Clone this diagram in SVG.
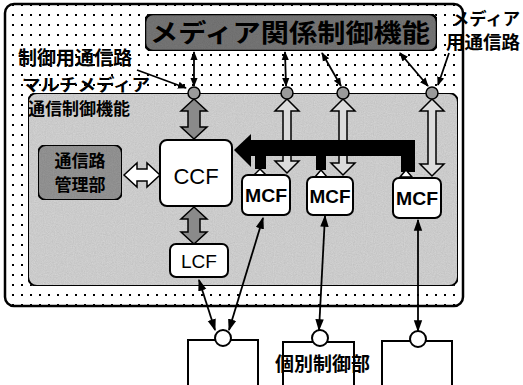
<svg xmlns="http://www.w3.org/2000/svg" width="523" height="385" viewBox="0 0 523 385">
<defs>
<pattern id="dots" width="9" height="10" patternUnits="userSpaceOnUse">
<rect width="9" height="10" fill="#fff"/>
<rect x="3" y="4" width="2" height="2" fill="#000"/>
</pattern>
<filter id="grain" x="0" y="0" width="100%" height="100%">
<feTurbulence type="fractalNoise" baseFrequency="0.9" numOctaves="2" seed="3" result="n"/>
<feColorMatrix in="n" type="saturate" values="0" result="g"/>
<feComponentTransfer in="g" result="g2"><feFuncA type="linear" slope="0" intercept="0.3"/></feComponentTransfer>
<feComposite in="g2" in2="SourceGraphic" operator="in" result="m"/>
<feBlend in="SourceGraphic" in2="m" mode="multiply"/>
</filter>
<marker id="ah" viewBox="0 0 10 10" refX="9" refY="5" markerWidth="9" markerHeight="9" orient="auto-start-reverse" markerUnits="userSpaceOnUse">
<path d="M0,1 L10,5 L0,9 z" fill="#000"/>
</marker>
<marker id="ahs" viewBox="0 0 10 10" refX="9" refY="5" markerWidth="12" markerHeight="12" orient="auto-start-reverse" markerUnits="userSpaceOnUse">
<path d="M0,1.5 L10,5 L0,8.5 z" fill="#000"/>
</marker>
</defs>
<style>
.jp{font-family:"Noto Sans CJK JP","Noto Sans",sans-serif;font-weight:bold;fill:#000}
.en{font-family:"Liberation Sans",Arial,sans-serif;fill:#000;text-anchor:middle}
.box{fill:#fff;stroke:#000;stroke-width:2}
.bus{fill:#9a9a9a;stroke:#000;stroke-width:1.5}
.thin{stroke:#000;stroke-width:1.8;fill:none}
.gray{fill:#8a8a8a;stroke:#000;stroke-width:1.5}
.hollow{fill:#fff;stroke:#000;stroke-width:1.5}
.hollowg{fill:#dcdcdc;stroke:#000;stroke-width:1.5}
.unit{fill:#fff;stroke:#000;stroke-width:2}
</style>

<g id="outer">
<rect x="5" y="4" width="458" height="302" rx="9" fill="url(#dots)" stroke="#000" stroke-width="2.5"/>
</g>
<g id="inner">
<rect x="28" y="93" width="430" height="193" rx="9" fill="#dadada" stroke="#000" stroke-width="2" filter="url(#grain)"/>
</g>

<g id="media-ctrl">
<rect x="145" y="14" width="292" height="37" rx="8" fill="#7a7a7a" stroke="#000" stroke-width="2.5" filter="url(#grain)"/>
<text class="jp" x="150" y="42" font-size="25" textLength="280" lengthAdjust="spacingAndGlyphs">メディア関係制御機能</text>
</g>

<g id="labels">
<text class="jp" x="18" y="65" font-size="19">制御用通信路</text>
<text class="jp" x="22" y="91" font-size="17" textLength="128" lengthAdjust="spacingAndGlyphs">マルチメディア</text>
<text class="jp" x="28" y="115" font-size="17">通信制御機能</text>
<text class="jp" x="452" y="25" font-size="17" textLength="68" lengthAdjust="spacingAndGlyphs">メディア</text>
<text class="jp" x="446" y="49" font-size="18" textLength="74" lengthAdjust="spacingAndGlyphs">用通信路</text>
</g>

<g id="connectors">
<line class="thin" x1="137" y1="70" x2="186" y2="88" marker-end="url(#ah)"/>
<line class="thin" x1="194" y1="52" x2="194" y2="86" marker-start="url(#ah)" marker-end="url(#ah)"/>
<line class="thin" x1="285" y1="52" x2="286" y2="86" marker-start="url(#ah)" marker-end="url(#ah)"/>
<line class="thin" x1="322" y1="53" x2="341" y2="86" marker-start="url(#ah)" marker-end="url(#ah)"/>
<line class="thin" x1="400" y1="53" x2="428" y2="86" marker-start="url(#ah)" marker-end="url(#ah)"/>
<line class="thin" x1="449" y1="53" x2="438" y2="85" marker-end="url(#ah)"/>

<polygon class="gray" points="194,99 207,111 200,111 200,127 207,127 194,139 181,127 188,127 188,111 181,111"/>
<polygon class="gray" points="194,207 207,219 200,219 200,232 207,232 194,244 181,232 188,232 188,219 181,219"/>
<polygon class="hollow" points="124,175 137,163 137,169 147,169 147,163 160,175 147,187 147,181 137,181 137,187"/>

<polygon class="hollowg" points="287,99 299,111 291,111 291,161 299,161 287,173 275,161 283,161 283,111 275,111"/>
<polygon class="hollowg" points="343,99 355,111 347,111 347,163 355,163 343,175 331,163 339,163 339,111 331,111"/>
<polygon class="hollowg" points="432,99 444,111 436,111 436,164 444,164 432,176 420,164 428,164 428,111 420,111"/>

<polygon fill="#000" points="234,150 251,134 251,140 415,140 415,172 401,172 401,156 251,156 251,167"/>
<rect x="255" y="156" width="11" height="13" fill="#000"/>
<rect x="316" y="156" width="10" height="14" fill="#000"/>
<polygon class="hollow" points="260,169 266,175 254,175"/>
<polygon class="hollow" points="321,170 327,177 315,177"/>
<polygon class="hollow" points="406,170 412,177 400,177"/>

<line class="thin" x1="199" y1="280" x2="215" y2="330" marker-start="url(#ahs)" marker-end="url(#ahs)"/>
<line class="thin" x1="263" y1="218" x2="229" y2="330" marker-start="url(#ahs)" marker-end="url(#ahs)"/>
<line class="thin" x1="325" y1="216" x2="319" y2="330" marker-start="url(#ahs)" marker-end="url(#ahs)"/>
<line class="thin" x1="418" y1="220" x2="418" y2="331" marker-start="url(#ahs)" marker-end="url(#ahs)"/>
</g>

<g id="bus-points">
<circle class="bus" cx="194" cy="93" r="6"/>
<circle class="bus" cx="287" cy="93" r="6"/>
<circle class="bus" cx="343" cy="93" r="6"/>
<circle class="bus" cx="432" cy="93" r="6"/>
</g>

<g id="path-mgr">
<rect x="38" y="145" width="84" height="55" rx="8" fill="#9a9a9a" stroke="#000" stroke-width="2" filter="url(#grain)"/>
<text class="jp" x="80" y="167" font-size="17" text-anchor="middle">通信路</text>
<text class="jp" x="80" y="191" font-size="17" text-anchor="middle">管理部</text>
</g>

<g id="ccf">
<rect class="box" x="160" y="140" width="72" height="66" rx="7"/>
<text class="en" x="196" y="184" font-size="22">CCF</text>
</g>
<g id="lcf">
<rect class="box" x="170" y="244" width="58" height="33" rx="6"/>
<text class="en" x="199" y="268" font-size="19">LCF</text>
</g>
<g id="mcf1">
<rect class="box" x="242" y="175" width="48" height="40" rx="6"/>
<text class="en" x="266" y="202" font-size="19" font-weight="bold" textLength="42" lengthAdjust="spacingAndGlyphs">MCF</text>
</g>
<g id="mcf2">
<rect class="box" x="307" y="177" width="46" height="38" rx="6"/>
<text class="en" x="330" y="203" font-size="19" font-weight="bold" textLength="41" lengthAdjust="spacingAndGlyphs">MCF</text>
</g>
<g id="mcf3">
<rect class="box" x="393" y="178" width="48" height="40" rx="6"/>
<text class="en" x="417" y="205" font-size="19" font-weight="bold" textLength="42" lengthAdjust="spacingAndGlyphs">MCF</text>
</g>

<g id="unit1">
<rect class="unit" x="188" y="340" width="70" height="48"/>
<circle class="unit" cx="223" cy="338" r="8"/>
</g>
<g id="unit2">
<rect class="unit" x="283" y="342" width="71" height="46"/>
<circle class="unit" cx="320" cy="338" r="8"/>
</g>
<g id="unit3">
<rect class="unit" x="382" y="341" width="70" height="47"/>
<circle class="unit" cx="418" cy="339" r="8"/>
</g>
<g id="unit-label">
<text class="jp" x="275" y="371" font-size="19">個別制御部</text>
</g>
</svg>
